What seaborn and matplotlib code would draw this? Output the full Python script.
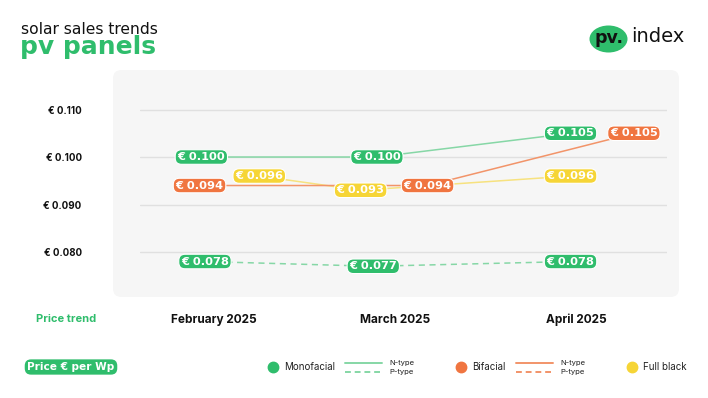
import numpy as np
import pandas as pd
import matplotlib
matplotlib.use("Agg")
import matplotlib.pyplot as plt
import seaborn as sns
from matplotlib.patches import FancyBboxPatch, Ellipse

# data
months = ["February 2025", "March 2025", "April 2025"]
mono_n = [0.100, 0.100, 0.105]
mono_p = [0.078, 0.077, 0.078]
bifacial_n = [0.094, 0.094, 0.105]
full_black = [0.096, 0.093, 0.096]
yticks = [0.080, 0.090, 0.100, 0.110]
ytick_labels = ["€ 0.080", "€ 0.090", "€ 0.100", "€ 0.110"]

# layout: horizontal nudges of the value pills (in month units), so they don't overlap
nudge = {
    "mono_n": [-0.07, -0.10, -0.03],
    "mono_p": [-0.05, -0.12, -0.03],
    "bifacial_n": [-0.08, 0.18, 0.32],
    "full_black": [0.25, -0.19, -0.03],
}

GREEN = "#2fbd6c"
ORANGE = "#f07540"
YELLOW = "#f6d536"
LGREEN = "#86d7a6"
LORANGE = "#f29469"
LYELLOW = "#f7e27f"
WIDE = ["DejaVu Sans"]

series = [
    # key, values, pill color, line color, dashed
    ("mono_n", mono_n, GREEN, LGREEN, False),
    ("full_black", full_black, YELLOW, LYELLOW, False),
    ("bifacial_n", bifacial_n, ORANGE, LORANGE, False),
    ("mono_p", mono_p, GREEN, LGREEN, True),
]

sns.set_style("white")
plt.rcParams["font.family"] = ["Inter", "DejaVu Sans"]

W, H = 708, 398
fig = plt.figure(figsize=(W / 100, H / 100), dpi=100)
fig.patch.set_facecolor("white")

def fx(x):
    return x / W

def fy(y):
    return 1 - y / H

# grey panel
panel = FancyBboxPatch((fx(113), fy(297)), fx(679) - fx(113), fy(70) - fy(297),
                       boxstyle="round,pad=0,rounding_size=0.012", mutation_aspect=W / H,
                       transform=fig.transFigure, facecolor="#f6f6f6", edgecolor="none", zorder=0)
fig.add_artist(panel)

ax = fig.add_axes([fx(140), fy(297), fx(667) - fx(140), fy(70) - fy(297)])
ax.set_facecolor("none")
for s in ax.spines.values():
    s.set_visible(False)

for key, vals, col, lcol, dashed in series:
    df = pd.DataFrame({"x": np.arange(len(months)) + np.array(nudge[key]), "price": vals})
    sns.lineplot(data=df, x="x", y="price", ax=ax, color=lcol, lw=1.1,
                 linestyle=(0, (4, 3)) if dashed else "-", zorder=2)
    for xv, v in zip(df["x"], df["price"]):
        ax.text(xv, v, f"€ {v:.3f}", ha="center", va="center", color="white", family=WIDE,
                fontsize=8.2, fontweight="bold", zorder=5,
                bbox=dict(boxstyle="round,pad=0.2,rounding_size=0.55", fc=col, ec="white", lw=0.8))

ax.set_xlim(-0.409, 2.503)
ax.set_ylim(0.07053, 0.11832)
ax.set_yticks(yticks, labels=ytick_labels)
ax.set_xticks(range(len(months)), labels=months)
ax.grid(axis="y", color="#e0e0e0", lw=1)
ax.grid(axis="x", visible=False)
ax.tick_params(axis="y", length=0, pad=42, labelsize=7)
ax.tick_params(axis="x", length=0, pad=12, labelsize=8.5)
for t in ax.get_yticklabels() + ax.get_xticklabels():
    t.set_fontweight("bold")
    t.set_color("#111111")
ax.set_xlabel("")
ax.set_ylabel("")

# overlay in pixel coordinates for header and legend
ov = fig.add_axes([0, 0, 1, 1], zorder=10)
ov.set_xlim(0, W)
ov.set_ylim(H, 0)
ov.axis("off")
ov.patch.set_visible(False)

ov.text(21, 29, "solar sales trends", fontsize=11.2, family=WIDE, color="#111111", va="center", ha="left")
ov.text(20, 47, "pv panels", fontsize=18, family=WIDE, color=GREEN, fontweight="bold", va="center", ha="left")

ov.add_patch(Ellipse((608.5, 39), 38, 27, facecolor=GREEN, edgecolor="none"))
ov.text(608.5, 38, "pv.", fontsize=12.5, family=WIDE, fontweight="bold", color="#111111", ha="center", va="center")
ov.text(631, 37, "index", fontsize=14, family=WIDE, color="#111111", ha="left", va="center")

ov.text(66, 319, "Price trend", fontsize=8, fontweight="bold", color=GREEN, ha="center", va="center")

ov.text(71, 367, "Price € per Wp", fontsize=7.6, family=WIDE, fontweight="bold", color="white",
        ha="center", va="center",
        bbox=dict(boxstyle="round,pad=0.25,rounding_size=0.6", fc=GREEN, ec="none"))

def legend_group(cx, col, lcol, name, lines):
    ov.plot([cx], [367], "o", ms=7.5, color=col)
    ov.text(cx + 11, 367.5, name, fontsize=7, color="#222222", ha="left", va="center")
    if lines:
        lx = lines
        ov.plot([lx, lx + 37], [363, 363], color=lcol, lw=1.4)
        ov.plot([lx, lx + 37], [372, 372], color=lcol, lw=1.4, linestyle=(0, (3, 2)))
        ov.text(lx + 44, 363, "N-type", fontsize=5.5, color="#222222", ha="left", va="center")
        ov.text(lx + 44, 372, "P-type", fontsize=5.5, color="#222222", ha="left", va="center")

legend_group(273, GREEN, LGREEN, "Monofacial", 345)
legend_group(461, ORANGE, LORANGE, "Bifacial", 516)
legend_group(632, YELLOW, LYELLOW, "Full black", None)

fig.savefig("out.png", dpi=100)
